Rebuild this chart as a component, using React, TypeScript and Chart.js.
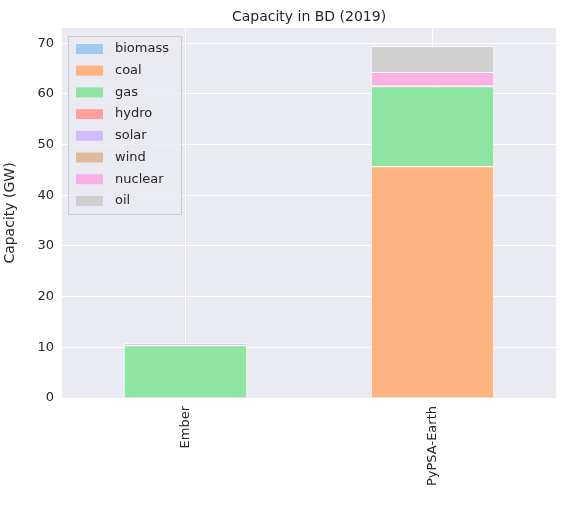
import { useEffect, useRef } from "react"
import { Chart, registerables } from "chart.js"

Chart.register(...registerables)

const categories = ["Ember", "PyPSA-Earth"]
const carriers = ["biomass", "coal", "gas", "hydro", "solar", "wind", "nuclear", "oil"]
const colors = ["#a1c9f4", "#ffb482", "#8de5a1", "#ff9f9b", "#d0bbff", "#debb9b", "#fab0e4", "#cfcfcf"]
const biomass = [0, 0]
const coal = [0, 45.7]
const gas = [10.4, 15.8]
const hydro = [0, 0.2]
const solar = [0.4, 0]
const wind = [0, 0]
const nuclear = [0, 2.6]
const oil = [0, 5.1]
const yTicks = [0, 10, 20, 30, 40, 50, 60, 70]

const FONT = "'DejaVu Sans', sans-serif"
const TEXT = "#262626"

const backdrop = {
  id: "backdrop",
  beforeDraw(chart: Chart) {
    const { ctx, chartArea: a } = chart
    ctx.save()
    ctx.fillStyle = "#eaeaf2"
    ctx.fillRect(a.left, a.top, a.right - a.left, a.bottom - a.top)
    ctx.restore()
  },
  afterDraw(chart: Chart) {
    const { ctx, chartArea: a } = chart
    ctx.save()
    ctx.fillStyle = TEXT
    ctx.font = `14px ${FONT}`
    ctx.textAlign = "center"
    ctx.textBaseline = "middle"
    ctx.fillText("Capacity in BD (2019)", (a.left + a.right) / 2, 17)
    // legend box
    const x0 = a.left + 6
    const y0 = a.top + 8
    const w = 113
    const h = 178
    ctx.globalAlpha = 0.8
    ctx.fillStyle = "#eaeaf2"
    ctx.fillRect(x0, y0, w, h)
    ctx.globalAlpha = 1
    ctx.strokeStyle = "#cccccc"
    ctx.lineWidth = 1
    ctx.strokeRect(x0 + 0.5, y0 + 0.5, w, h)
    ctx.font = `13px ${FONT}`
    ctx.textAlign = "left"
    carriers.forEach((c, i) => {
      const cy = y0 + 13 + i * 21.7
      ctx.fillStyle = colors[i]
      ctx.fillRect(x0 + 8, cy - 5, 27, 10)
      ctx.fillStyle = TEXT
      ctx.fillText(c, x0 + 47, cy)
    })
    ctx.restore()
  },
}

export default function App() {
  const ref = useRef<HTMLCanvasElement>(null)
  const inst = useRef<Chart | null>(null)

  useEffect(() => {
    document.body.style.margin = "0"
    if (!ref.current) return
    if (inst.current) inst.current.destroy()
    const values = [biomass, coal, gas, hydro, solar, wind, nuclear, oil]
    inst.current = new Chart(ref.current, {
      type: "bar",
      data: {
        labels: categories,
        datasets: carriers.map((c, i) => ({
          label: c,
          data: values[i],
          backgroundColor: colors[i],
          borderColor: "#ffffff",
          borderWidth: 1,
          categoryPercentage: 1,
          barPercentage: 0.5,
        })),
      },
      options: {
        animation: false,
        responsive: false,
        layout: { padding: { top: 28, right: 10, left: 0, bottom: 0 } },
        plugins: { legend: { display: false }, title: { display: false }, tooltip: { enabled: false } },
        scales: {
          x: {
            stacked: true,
            grid: { color: "#ffffff", offset: false, drawTicks: false },
            border: { display: false },
            ticks: { color: TEXT, font: { family: FONT, size: 13 }, maxRotation: 90, minRotation: 90, padding: 8 },
            afterFit: (s: any) => { s.height = 114 },
          },
          y: {
            stacked: true,
            min: 0,
            max: 73,
            afterBuildTicks: (s: any) => { s.ticks = yTicks.map((v) => ({ value: v })) },
            grid: { color: "#ffffff", drawTicks: false },
            border: { display: false },
            ticks: { color: TEXT, font: { family: FONT, size: 13 }, padding: 8 },
            title: { display: true, text: "Capacity (GW)", color: TEXT, font: { family: FONT, size: 14 }, padding: 2 },
            afterFit: (s: any) => { s.width = 62 },
          },
        },
      },
      plugins: [backdrop],
    })
    return () => {
      inst.current?.destroy()
      inst.current = null
    }
  }, [])

  return (
    <div style={{ width: 566, height: 512, background: "#fff" }}>
      <canvas ref={ref} width={566} height={512}></canvas>
    </div>
  )
}
